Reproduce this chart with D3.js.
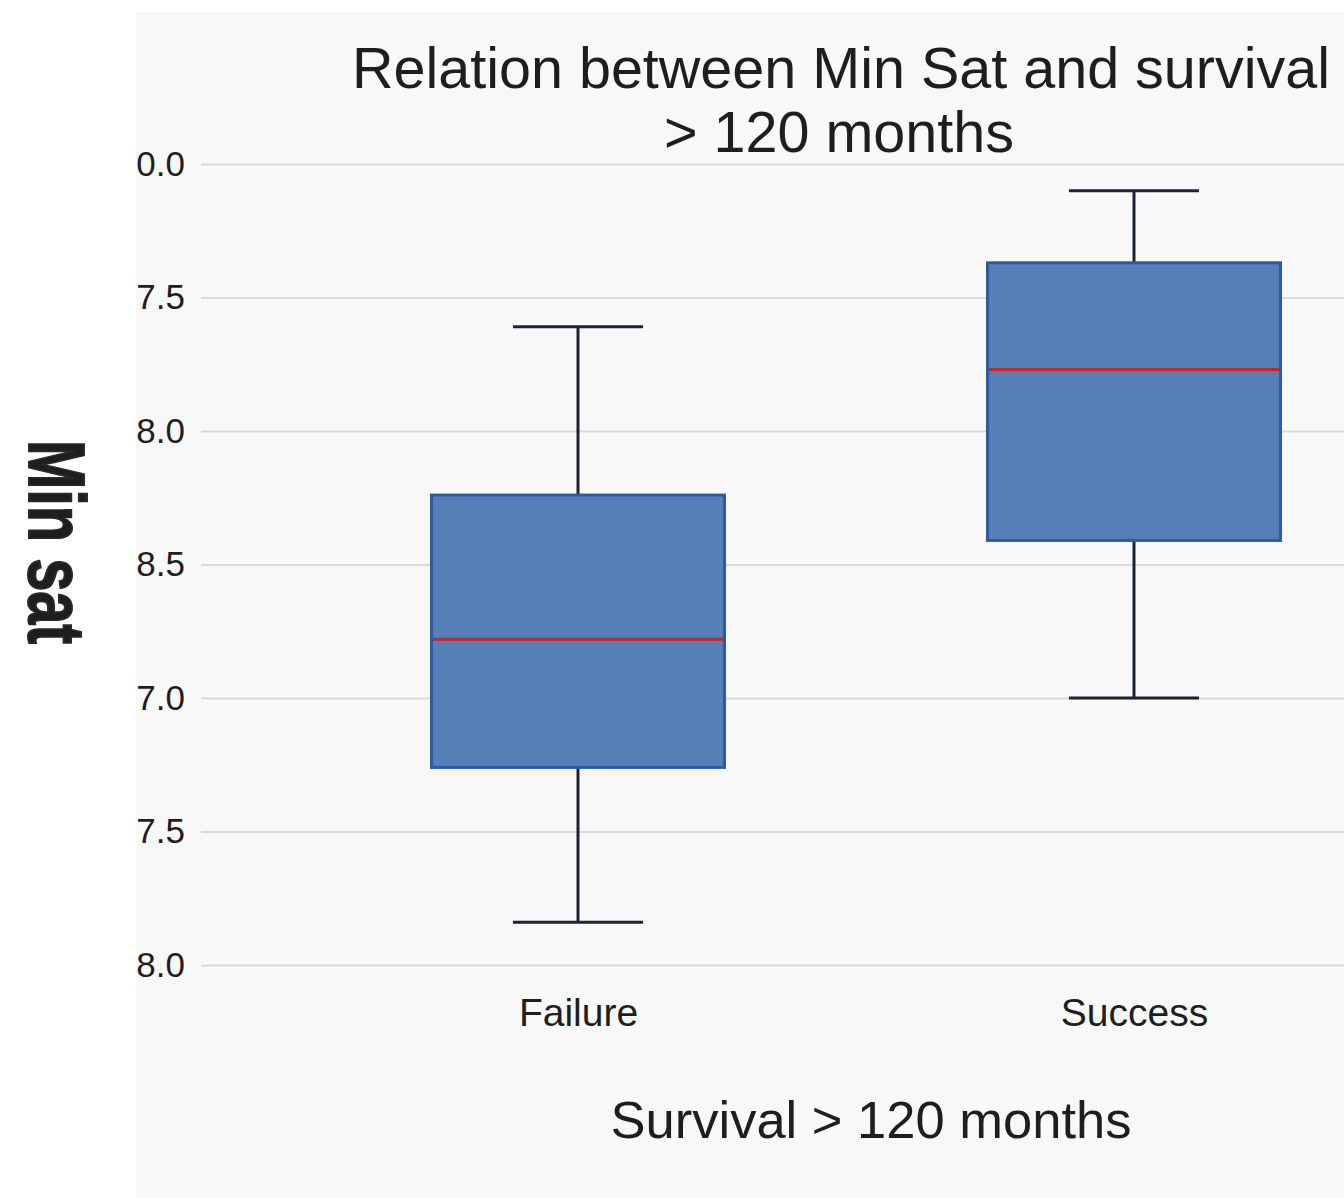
<!DOCTYPE html>
<html>
<head>
<meta charset="utf-8">
<script src="https://cdn.jsdelivr.net/npm/d3@7"></script>
<style>
  body { margin: 0; background: #ffffff; }
  text { font-family: "Liberation Sans", Arial, sans-serif; fill: #1e1e1e; }
</style>
</head>
<body>
<div id="chart"></div>
<script>
// groups and box statistics
var groups = ["Failure", "Success"];
var whiskerLow = [75.8, 80.0];
var q1 = [78.7, 82.95];
var median = [81.1, 86.15];
var q3 = [83.8, 88.15];
var whiskerHigh = [86.95, 89.5];

// tick values and the (clipped) labels as they appear
var tickValues = [90, 87.5, 85, 82.5, 80, 77.5, 75];
var tickLabels = ["0.0", "7.5", "8.0", "8.5", "7.0", "7.5", "8.0"];

var svgWidth = 1344;
var svgHeight = 1198;

var svg = d3.select("#chart")
  .append("svg")
  .attr("width", svgWidth)
  .attr("height", svgHeight);

// grey panel, starts a bit in from the left edge
svg.append("rect")
  .attr("x", 136)
  .attr("y", 12)
  .attr("width", svgWidth - 136)
  .attr("height", svgHeight - 12)
  .attr("fill", "#f8f8f8");

svg.append("clipPath")
  .attr("id", "panelClip")
  .append("rect")
  .attr("x", 136)
  .attr("y", 0)
  .attr("width", svgWidth - 136)
  .attr("height", svgHeight);

var yScale = d3.scaleLinear()
  .domain([75, 90])
  .range([965, 164]);

var xScale = d3.scalePoint()
  .domain(groups)
  .range([300, 1412])
  .padding(0.5);

var step = xScale.step();
var boxW = step * 0.527;
var capW = step * 0.234;

// y axis with gridlines (labels clipped at the panel edge)
var yAxis = d3.axisLeft(yScale)
  .tickValues(tickValues)
  .tickSize(-(svgWidth - 201))
  .tickPadding(16)
  .tickFormat(function(d, i) { return tickLabels[i]; });

var yG = svg.append("g")
  .attr("clip-path", "url(#panelClip)")
  .append("g")
  .attr("transform", "translate(201,0)")
  .call(yAxis);
yG.select(".domain").remove();
yG.selectAll(".tick line").attr("stroke", "#d9d9d9").attr("stroke-width", 2);
yG.selectAll(".tick text")
  .attr("font-size", 35)
  .attr("font-family", "Liberation Sans, Arial, sans-serif")
  .attr("fill", "#1e1e1e");

// x axis labels
var xG = svg.append("g")
  .attr("transform", "translate(0,965)")
  .call(d3.axisBottom(xScale).tickSize(0).tickPadding(33));
xG.select(".domain").remove();
xG.selectAll(".tick text")
  .attr("font-size", 39)
  .attr("font-family", "Liberation Sans, Arial, sans-serif")
  .attr("fill", "#1e1e1e");

// boxes
var boxes = svg.selectAll(".box")
  .data(groups)
  .enter()
  .append("g")
  .attr("class", "box");

// whisker stems
boxes.append("line")
  .attr("x1", function(d) { return xScale(d); })
  .attr("x2", function(d) { return xScale(d); })
  .attr("y1", function(d, i) { return yScale(whiskerHigh[i]); })
  .attr("y2", function(d, i) { return yScale(whiskerLow[i]); })
  .attr("stroke", "#1b2335")
  .attr("stroke-width", 3);

// whisker caps
[whiskerHigh, whiskerLow].forEach(function(arr) {
  boxes.append("line")
    .attr("x1", function(d) { return xScale(d) - capW / 2; })
    .attr("x2", function(d) { return xScale(d) + capW / 2; })
    .attr("y1", function(d, i) { return yScale(arr[i]); })
    .attr("y2", function(d, i) { return yScale(arr[i]); })
    .attr("stroke", "#1b2335")
    .attr("stroke-width", 3);
});

boxes.append("rect")
  .attr("x", function(d) { return xScale(d) - boxW / 2; })
  .attr("y", function(d, i) { return yScale(q3[i]); })
  .attr("width", boxW)
  .attr("height", function(d, i) { return yScale(q1[i]) - yScale(q3[i]); })
  .attr("fill", "#567fb7")
  .attr("stroke", "#2d5ba3")
  .attr("stroke-width", 3);

boxes.append("line")
  .attr("x1", function(d) { return xScale(d) - boxW / 2 + 1.5; })
  .attr("x2", function(d) { return xScale(d) + boxW / 2 - 1.5; })
  .attr("y1", function(d, i) { return yScale(median[i]); })
  .attr("y2", function(d, i) { return yScale(median[i]); })
  .attr("stroke", "#c1272d")
  .attr("stroke-width", 3);

// titles
svg.append("text")
  .attr("x", 841)
  .attr("y", 88)
  .attr("text-anchor", "middle")
  .attr("font-size", 57.5)
  .text("Relation between Min Sat and survival");

svg.append("text")
  .attr("x", 839)
  .attr("y", 152)
  .attr("text-anchor", "middle")
  .attr("font-size", 57.5)
  .text("> 120 months");

svg.append("text")
  .attr("x", 871)
  .attr("y", 1138)
  .attr("text-anchor", "middle")
  .attr("font-size", 52.5)
  .text("Survival > 120 months");

svg.append("text")
  .attr("transform", "translate(29,542) rotate(90)")
  .attr("text-anchor", "middle")
  .attr("font-family", "Liberation Sans Narrow, Arial Narrow, sans-serif")
  .attr("font-weight", "bold")
  .attr("font-size", 80)
  .attr("textLength", 204)
  .attr("lengthAdjust", "spacingAndGlyphs")
  .attr("fill", "#2a2a2a")
  .attr("stroke", "#2a2a2a")
  .attr("stroke-width", 2)
  .text("Min sat");
</script>
</body>
</html>
